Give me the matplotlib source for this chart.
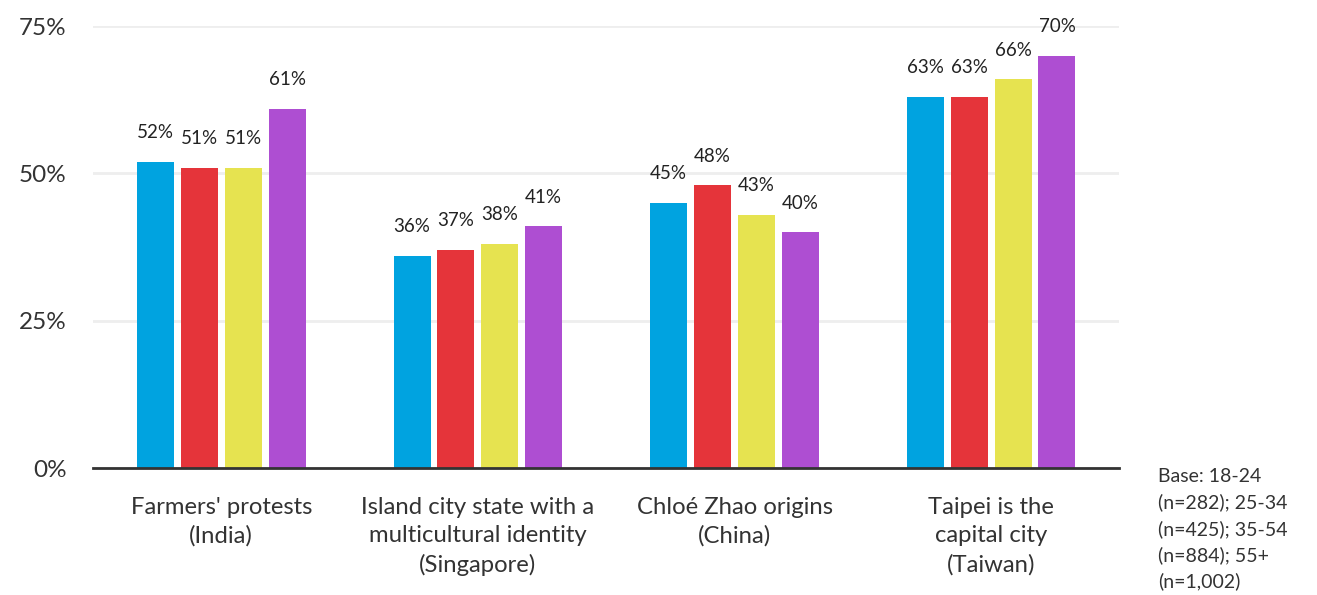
import matplotlib.pyplot as plt
import numpy as np

plt.rcParams['font.family'] = ['Lato', 'DejaVu Sans']

# data
categories = ["Farmers' protests\n(India)",
              "Island city state with a\nmulticultural identity\n(Singapore)",
              "Chloé Zhao origins\n(China)",
              "Taipei is the\ncapital city\n(Taiwan)"]
age_groups = ["18-24", "25-34", "35-54", "55+"]
values = {
    "18-24": [52, 36, 45, 63],
    "25-34": [51, 37, 48, 63],
    "35-54": [51, 38, 43, 66],
    "55+":   [61, 41, 40, 70],
}
colors = ["#00a3e0", "#e5343a", "#e6e350", "#ae4ed2"]
yticks = [0, 25, 50, 75]
base_note = "Base: 18-24\n(n=282); 25-34\n(n=425); 35-54\n(n=884); 55+\n(n=1,002)"

fig = plt.figure(figsize=(13.17, 5.95), dpi=100)
ax = fig.add_axes([0.0706, 0.2134, 0.7794, 0.7426])

x = np.arange(len(categories))
offsets = [-1.5, -0.5, 0.5, 1.5]
step = 0.171
width = 0.144

for i, grp in enumerate(age_groups):
    bars = ax.bar(x + offsets[i] * step, values[grp], width=width,
                  color=colors[i], zorder=3)
    for b, v in zip(bars, values[grp]):
        ax.annotate(f"{v}%", (b.get_x() + b.get_width() / 2, v),
                    xytext=(0, 21), textcoords='offset points',
                    ha='center', va='center', fontsize=13.5, color='#222222')

ax.set_xlim(-0.5, 3.5)
ax.set_ylim(0, 75)
ax.set_yticks(yticks)
ax.set_yticklabels([f"{t}%" for t in yticks], fontsize=17.5, color='#333333')
ax.set_xticks(x)
ax.set_xticklabels(categories, fontsize=17.2, color='#333333', linespacing=1.42)
ax.tick_params(axis='both', length=0)
ax.tick_params(axis='y', pad=19)
ax.tick_params(axis='x', pad=21)

ax.grid(axis='y', color='#eeeeee', linewidth=2, zorder=0)
for s in ['top', 'right', 'left']:
    ax.spines[s].set_visible(False)
ax.spines['bottom'].set_color('#333333')
ax.spines['bottom'].set_linewidth(2)
ax.spines['bottom'].set_zorder(4)

fig.text(0.879, 0.213, base_note, fontsize=14, color='#333333',
         va='top', ha='left', linespacing=1.56)

plt.savefig('out.png', dpi=100, facecolor='white')
